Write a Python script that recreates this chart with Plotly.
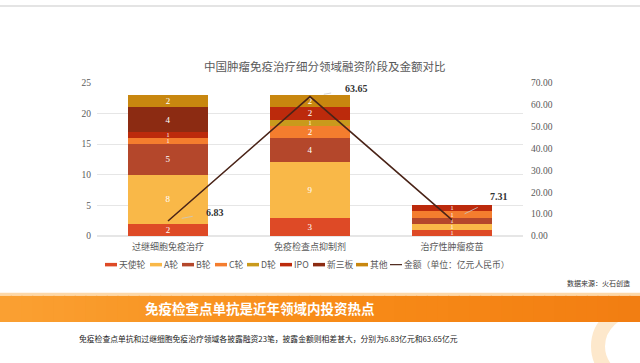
import plotly.graph_objects as go

categories = ["过继细胞免疫治疗", "免疫检查点抑制剂", "治疗性肿瘤疫苗"]
stages = ["天使轮", "A轮", "B轮", "C轮", "D轮", "IPO", "新三板", "其他"]
angel = [2, 3, 1]
round_a = [8, 9, 1]
round_b = [5, 4, 1]
round_c = [1, 2, 1]
round_d = [0, 1, 0]
ipo = [1, 2, 1]
neeq = [4, 0, 0]
other = [2, 2, 0]
amount = [6.83, 63.65, 7.31]
amount_name = "金额（单位：亿元人民币）"

series = [angel, round_a, round_b, round_c, round_d, ipo, neeq, other]
colors = ["#DE4A26", "#F9B848", "#B4472B", "#F47D2E", "#C99A1C", "#BC2A0C", "#8C2B12", "#C8870F"]

W, H = 640, 363
def px(x):
    return x / W
def py(y):
    return 1 - y / H

fig = go.Figure()
for name, vals, col in zip(stages, series, colors):
    fig.add_trace(go.Bar(
        x=categories, y=vals, name=name, marker_color=col, marker_line_width=0,
        text=[str(v) if v else "" for v in vals], textposition="inside", textangle=0,
        insidetextanchor="middle",
        textfont=dict(color="white", size=[9 if v >= 2 else 6 for v in vals], family="Liberation Serif"),
        constraintext="none", showlegend=False, hoverinfo="skip"))

fig.add_trace(go.Scatter(
    x=categories, y=amount, yaxis="y2", mode="lines", name=amount_name,
    line=dict(color="#4A2418", width=1.6), showlegend=False))

annotations = []
offsets = [(47, -9), (46, -8), (47, -23)]
for c, v, (ax, ay) in zip(categories, amount, offsets):
    annotations.append(dict(x=c, y=v, xref="x", yref="y2", text="<b>%.2f</b>" % v,
                            showarrow=True, arrowhead=0, arrowwidth=0.8, arrowcolor="#C8C8C8",
                            ax=ax, ay=ay, standoff=14, startstandoff=12,
                            font=dict(family="Liberation Serif", size=10, color="#333333")))

def txt(x, y, text, size, color, xanchor="center", family="Noto Sans CJK SC"):
    return dict(x=px(x), y=py(y), xref="paper", yref="paper", showarrow=False,
                xanchor=xanchor, yanchor="middle", text=text,
                font=dict(family=family, size=size, color=color))

# title
annotations.append(txt(325, 63, "中国肿瘤免疫治疗细分领域融资阶段及金额对比", 11.5, "#595959"))

# legend (manual)
leg_sym_x = [105, 150, 182, 215, 247, 280, 313, 356, 390]
leg_y = 267
shapes = []
for i, (name, col) in enumerate(zip(stages + [amount_name], colors + ["#4A2418"])):
    x0 = leg_sym_x[i]
    lw = 3.5 if i < 8 else 1.2
    shapes.append(dict(type="line", xref="paper", yref="paper", x0=px(x0), x1=px(x0 + 12),
                       y0=py(leg_y), y1=py(leg_y), line=dict(color=col, width=lw)))
    annotations.append(txt(x0 + 12, leg_y, name, 8.8, "#595959", xanchor="left"))

annotations.append(txt(632, 286, "数据来源：火石创造", 7, "#333333", xanchor="right"))

# top line
shapes.append(dict(type="rect", xref="paper", yref="paper", x0=0, x1=1, y0=py(2), y1=1,
                   fillcolor="#E4E4E4", line_width=0, layer="below"))

# decorative ring bottom-right
shapes.append(dict(type="circle", xref="paper", yref="paper", x0=px(598), x1=px(680),
                   y0=py(390), y1=py(312), line=dict(color="rgba(250,190,110,0.35)", width=14),
                   layer="below"))

# banner with gradient
n = 60
def lerp(a, b, t):
    return tuple(int(round(a[k] + (b[k] - a[k]) * t)) for k in range(3))
cl, cm, cr = (250, 160, 50), (248, 140, 24), (242, 126, 18)
for i in range(n):
    t = i / (n - 1)
    c = lerp(cl, cm, t * 2) if t < 0.5 else lerp(cm, cr, (t - 0.5) * 2)
    shapes.append(dict(type="rect", xref="paper", yref="paper", x0=i / n, x1=(i + 1) / n + 0.002,
                       y0=py(326), y1=py(299), fillcolor="rgb(%d,%d,%d)" % c, line_width=0, layer="below"))
shapes.append(dict(type="rect", xref="paper", yref="paper", x0=0, x1=1, y0=py(299), y1=py(296),
                   fillcolor="rgba(251,190,110,0.6)", line_width=0, layer="below"))

annotations.append(txt(260, 312, "<b>免疫检查点单抗是近年领域内投资热点</b>", 13.5, "white"))
annotations.append(txt(268, 343, "免疫检查点单抗和过继细胞免疫治疗领域各披露融资23笔，披露金额则相差甚大，分别为6.83亿元和63.65亿元",
                       7.8, "#222222"))

fig.update_layout(
    width=W, height=H, margin=dict(l=0, r=0, t=0, b=0),
    paper_bgcolor="white", plot_bgcolor="white",
    barmode="stack", bargap=0.435,
    xaxis=dict(domain=[px(97), px(523)], showgrid=False, showline=False, ticks="",
               ticklabelstandoff=4,
               tickfont=dict(family="Noto Sans CJK SC", size=9, color="#595959")),
    yaxis=dict(domain=[py(237.5), py(80)], range=[0, 25], dtick=5, showgrid=True,
               gridcolor="#E6E6E6", gridwidth=1, zeroline=True, zerolinecolor="#E6E6E6",
               showline=False, ticks="", ticklabelstandoff=5,
               tickfont=dict(family="Liberation Serif", size=9.5, color="#595959")),
    yaxis2=dict(overlaying="y", side="right", range=[0, 70], dtick=10, tickformat=".2f",
                showgrid=False, zeroline=False, showline=False, ticks="", ticklabelstandoff=7,
                tickfont=dict(family="Liberation Serif", size=9.5, color="#595959")),
    annotations=annotations, shapes=shapes,
)

fig.write_html("out.html", config={"displayModeBar": False},
               post_script="document.body.style.margin='0';document.body.style.overflow='hidden';")
